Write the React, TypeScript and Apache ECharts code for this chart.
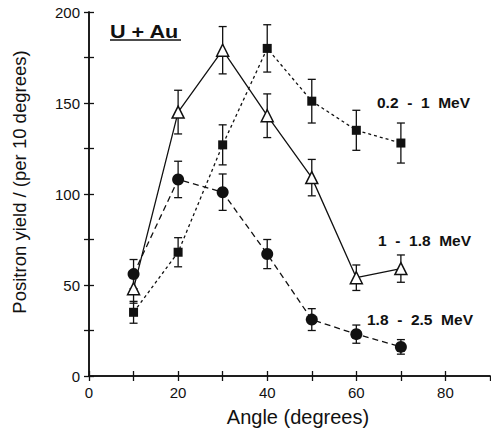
import React, { useEffect, useRef } from "react";
import * as echarts from "echarts";

const angles = [10, 20, 30, 40, 50, 60, 70];
const lowE = [35, 68, 127, 180, 151, 135, 128];
const lowErr = [6, 8, 11, 13, 12, 11, 11];
const midE = [48, 145, 179, 143, 109, 54, 59];
const midErr = [8, 12, 13, 12, 10, 7, 7.5];
const highE = [56, 108, 101, 67, 31, 23, 16];
const highErr = [8, 10, 10, 8, 6, 5, 4];

const xTicks = [0, 20, 40, 60, 80];
const yTicks = [0, 50, 100, 150, 200];

const FONT = "Liberation Sans, Arial, Helvetica, sans-serif";

function errData(vals: number[], errs: number[]) {
  return angles.map((a, i) => [a, vals[i] - errs[i], vals[i] + errs[i]]);
}

function errSeries(vals: number[], errs: number[]) {
  return {
    type: "custom",
    z: 3,
    silent: true,
    data: errData(vals, errs),
    renderItem: (params: any, api: any) => {
      const x = api.value(0);
      const lo = api.coord([x, api.value(1)]);
      const hi = api.coord([x, api.value(2)]);
      const w = 4;
      const st = { stroke: "#111", lineWidth: 1.3 };
      return {
        type: "group",
        children: [
          { type: "line", shape: { x1: lo[0], y1: lo[1], x2: hi[0], y2: hi[1] }, style: st },
          { type: "line", shape: { x1: lo[0] - w, y1: lo[1], x2: lo[0] + w, y2: lo[1] }, style: st },
          { type: "line", shape: { x1: hi[0] - w, y1: hi[1], x2: hi[0] + w, y2: hi[1] }, style: st },
        ],
      };
    },
  };
}

export default function App() {
  const ref = useRef<HTMLDivElement>(null);
  useEffect(() => {
    const chart = echarts.init(ref.current!, null, { renderer: "svg" });
    const axisCommon = {
      axisLine: { lineStyle: { color: "#111", width: 1.5 } },
      axisTick: { inside: true, length: 5, lineStyle: { color: "#111", width: 1.3 } },
      splitLine: { show: false },
    };
    chart.setOption({
      animation: false,
      backgroundColor: "#fff",
      grid: { left: 89, right: 1, top: 12, bottom: 55 },
      xAxis: [
        {
          type: "value",
          min: 0,
          max: 90,
          interval: 10,
          ...axisCommon,
          axisLabel: {
            fontFamily: FONT,
            fontSize: 15,
            color: "#111",
            margin: 9,
            showMaxLabel: false,
            formatter: (v: number) => (xTicks.includes(v) ? String(v) : ""),
          },
        },
        {
          type: "value",
          position: "top",
          min: 0,
          max: 90,
          interval: 10,
          ...axisCommon,
          axisLabel: { show: false },
        },
      ],
      yAxis: [
        {
          type: "value",
          min: 0,
          max: 200,
          interval: 25,
          ...axisCommon,
          axisLabel: {
            fontFamily: FONT,
            fontSize: 15,
            color: "#111",
            margin: 9,
            formatter: (v: number) => (yTicks.includes(v) ? String(v) : ""),
          },
        },
        {
          type: "value",
          position: "right",
          min: 0,
          max: 200,
          interval: 25,
          ...axisCommon,
          axisLabel: { show: false },
        },
      ],
      series: [
        errSeries(lowE, lowErr),
        errSeries(midE, midErr),
        errSeries(highE, highErr),
        {
          name: "0.2 - 1 MeV",
          type: "line",
          z: 4,
          data: angles.map((a, i) => [a, lowE[i]]),
          symbol: "rect",
          symbolSize: 9,
          lineStyle: { color: "#111", width: 1.3, type: [3, 3] },
          itemStyle: { color: "#111" },
        },
        {
          name: "1 - 1.8 MeV",
          type: "line",
          z: 5,
          data: angles.map((a, i) => [a, midE[i]]),
          symbol: "triangle",
          symbolSize: 12,
          lineStyle: { color: "#111", width: 1.3, type: "solid" },
          itemStyle: { color: "#fff", borderColor: "#111", borderWidth: 1.5 },
        },
        {
          name: "1.8 - 2.5 MeV",
          type: "line",
          z: 4,
          data: angles.map((a, i) => [a, highE[i]]),
          symbol: "circle",
          symbolSize: 12,
          lineStyle: { color: "#111", width: 1.3, type: [6, 4] },
          itemStyle: { color: "#111" },
        },
      ],
      graphic: [
        {
          type: "text",
          x: 19,
          y: 182,
          rotation: Math.PI / 2,
          style: {
            text: "Positron yield / (per 10 degrees)",
            font: `18.5px ${FONT}`,
            fill: "#111",
            align: "center",
            verticalAlign: "middle",
          },
        },
        {
          type: "text",
          x: 298,
          y: 417,
          style: {
            text: "Angle (degrees)",
            font: `20px ${FONT}`,
            fill: "#111",
            align: "center",
            verticalAlign: "middle",
          },
        },
        {
          type: "text",
          x: 110,
          y: 32,
          scaleX: 1.2,
          style: {
            text: "U + Au",
            font: `bold 18px ${FONT}`,
            fill: "#111",
            align: "left",
            verticalAlign: "middle",
          },
        },
        {
          type: "line",
          shape: { x1: 110, y1: 40, x2: 181, y2: 40 },
          style: { stroke: "#111", lineWidth: 1.5 },
        },
        {
          type: "text",
          x: 377,
          y: 102.5,
          style: { text: "0.2  -  1  MeV", font: `bold 15.5px ${FONT}`, fill: "#111", align: "left", verticalAlign: "middle" },
        },
        {
          type: "text",
          x: 378,
          y: 240.5,
          style: { text: "1  -  1.8  MeV", font: `bold 15.5px ${FONT}`, fill: "#111", align: "left", verticalAlign: "middle" },
        },
        {
          type: "text",
          x: 367,
          y: 319.5,
          style: { text: "1.8  -  2.5  MeV", font: `bold 15.5px ${FONT}`, fill: "#111", align: "left", verticalAlign: "middle" },
        },
      ],
    });
    return () => chart.dispose();
  }, []);
  return <div ref={ref} style={{ width: 491, height: 431, position: "absolute", left: 0, top: 0 }} />;
}
